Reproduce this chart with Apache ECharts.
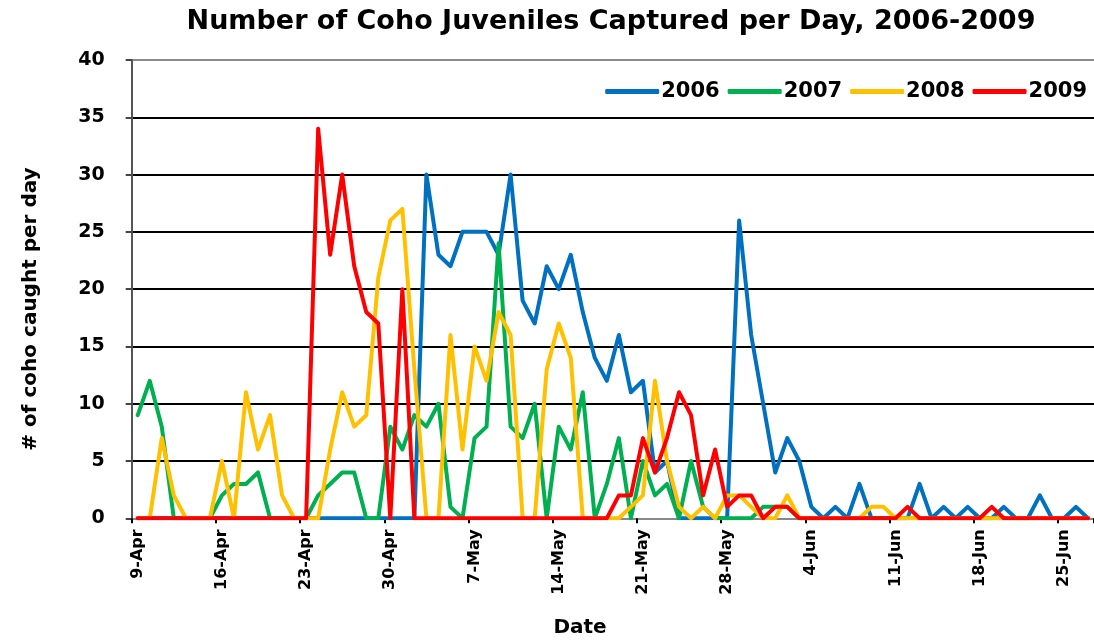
<!DOCTYPE html>
<html>
<head>
<meta charset="utf-8">
<script src="https://cdn.jsdelivr.net/npm/echarts@6/dist/echarts.min.js"></script>
<style>
  html, body { margin: 0; padding: 0; background: #ffffff; }
  #chart { width: 1094px; height: 644px; }
</style>
</head>
<body>
<div id="chart"></div>
<script>
// Trap dates, one per day
const days = [
  '9-Apr','10-Apr','11-Apr','12-Apr','13-Apr','14-Apr','15-Apr','16-Apr','17-Apr','18-Apr',
  '19-Apr','20-Apr','21-Apr','22-Apr','23-Apr','24-Apr','25-Apr','26-Apr','27-Apr','28-Apr',
  '29-Apr','30-Apr','1-May','2-May','3-May','4-May','5-May','6-May','7-May','8-May',
  '9-May','10-May','11-May','12-May','13-May','14-May','15-May','16-May','17-May','18-May',
  '19-May','20-May','21-May','22-May','23-May','24-May','25-May','26-May','27-May','28-May',
  '29-May','30-May','31-May','1-Jun','2-Jun','3-Jun','4-Jun','5-Jun','6-Jun','7-Jun',
  '8-Jun','9-Jun','10-Jun','11-Jun','12-Jun','13-Jun','14-Jun','15-Jun','16-Jun','17-Jun',
  '18-Jun','19-Jun','20-Jun','21-Jun','22-Jun','23-Jun','24-Jun','25-Jun','26-Jun','27-Jun'
];

// Coho juveniles caught per day, by year
const catch2006 = [
  0,0,0,0,0,0,0,0,0,0, 0,0,0,0,0,0,0,0,0,0, 0,0,0,0,30,23,22,25,25,25,
  23,30,19,17,22,20,23,18,14,12, 16,11,12,4,5,0,0,0,0,0, 26,16,10,4,7,5,1,0,1,0,
  3,0,0,0,0,3,0,1,0,1, 0,0,1,0,0,2,0,0,1,0
];
const catch2007 = [
  9,12,8,0,0,0,0,2,3,3, 4,0,0,0,0,2,3,4,4,0, 0,8,6,9,8,10,1,0,7,8,
  24,8,7,10,0,8,6,11,0,3, 7,0,5,2,3,0,5,1,0,0, 0,0,1,1,1,0,0,0,0,0,
  0,0,0,0,0,0,0,0,0,0, 0,0,0,0,0,0,0,0,0,0
];
const catch2008 = [
  0,0,7,2,0,0,0,5,0,11, 6,9,2,0,0,0,6,11,8,9, 21,26,27,13,0,0,16,6,15,12,
  18,16,0,0,13,17,14,0,0,0, 0,1,2,12,5,1,0,1,0,2, 2,1,0,0,2,0,0,0,0,0,
  0,1,1,0,0,0,0,0,0,0, 0,0,0,0,0,0,0,0,0,0
];
const catch2009 = [
  0,0,0,0,0,0,0,0,0,0, 0,0,0,0,0,34,23,30,22,18, 17,0,20,0,0,0,0,0,0,0,
  0,0,0,0,0,0,0,0,0,0, 2,2,7,4,7,11,9,2,6,1, 2,2,0,1,1,0,0,0,0,0,
  0,0,0,0,1,0,0,0,0,0, 0,1,0,0,0,0,0,0,0,0
];

const seriesNames = ['2006', '2007', '2008', '2009'];
const seriesColors = ['#0070C0', '#00B050', '#FFC000', '#FF0000'];
const seriesData = [catch2006, catch2007, catch2008, catch2009];

const FONT = 'DejaVu Sans';

const chart = echarts.init(document.getElementById('chart'), null, { renderer: 'canvas' });

chart.setOption({
  animation: false,
  backgroundColor: '#ffffff',
  title: {
    text: 'Number of Coho Juveniles Captured per Day, 2006-2009',
    left: 606,
    top: 3,
    textAlign: 'center',
    textStyle: { fontFamily: FONT, fontWeight: 'bold', fontSize: 27, color: '#000' }
  },
  legend: {
    data: seriesNames,
    right: 2,
    top: 76,
    icon: 'roundRect',
    itemWidth: 54,
    itemHeight: 5,
    itemGap: 8,
    textStyle: { fontFamily: FONT, fontWeight: 'bold', fontSize: 21, color: '#000', padding: [0, 0, 0, -3] }
  },
  grid: { left: 131.7, right: -4, top: 60, bottom: 125.7, containLabel: false },
  xAxis: {
    type: 'category',
    data: days,
    boundaryGap: true,
    axisLine: { show: true, lineStyle: { color: '#888', width: 2 } },
    axisTick: { show: true, interval: 6, length: 5, lineStyle: { color: '#000', width: 2 } },
    axisLabel: {
      interval: 6, rotate: 90, margin: 11,
      fontFamily: FONT, fontWeight: 'bold', fontSize: 16, color: '#000'
    },
    splitLine: { show: false }
  },
  yAxis: {
    type: 'value',
    min: 0, max: 40, interval: 5,
    axisLine: { show: true, lineStyle: { color: '#555', width: 2 } },
    axisTick: { show: true, length: 6, lineStyle: { color: '#444', width: 2 } },
    axisLabel: { margin: 27, fontFamily: FONT, fontWeight: 'bold', fontSize: 19, color: '#000' },
    splitLine: {
      show: true,
      lineStyle: {
        color: ['#888', '#000', '#000', '#000', '#000', '#000', '#000', '#000', '#8c8c8c'],
        width: 2
      }
    }
  },
  graphic: [
    {
      type: 'text', x: 31, y: 309, rotation: Math.PI / 2,
      style: {
        text: '# of coho caught per day', fill: '#000',
        font: 'bold 20px "DejaVu Sans"', textAlign: 'center', textVerticalAlign: 'middle'
      }
    },
    {
      type: 'text', x: 580, y: 628,
      style: {
        text: 'Date', fill: '#000',
        font: 'bold 20px "DejaVu Sans"', textAlign: 'center', textVerticalAlign: 'middle'
      }
    }
  ],
  series: seriesNames.map((name, k) => ({
    name: name,
    type: 'line',
    data: seriesData[k],
    symbol: 'none',
    smooth: false,
    color: seriesColors[k],
    lineStyle: { color: seriesColors[k], width: 4, join: 'round', cap: 'round' },
    emphasis: { disabled: true }
  }))
});
</script>
</body>
</html>
